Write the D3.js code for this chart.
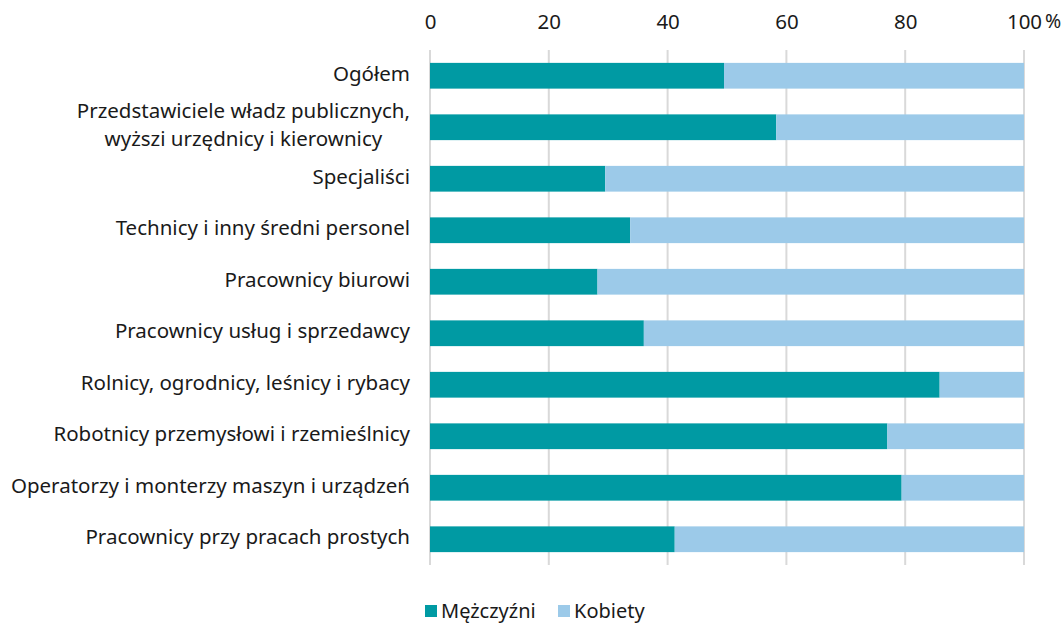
<!DOCTYPE html>
<html>
<head>
<meta charset="utf-8">
<script src="https://cdn.jsdelivr.net/npm/d3@7"></script>
<style>
  body { margin: 0; background: #fff; }
  svg { display: block; font-family: "Noto Sans", sans-serif; }
</style>
</head>
<body>
<div id="container"></div>
<script>
let width = 1062;
let height = 624;

// categories, top to bottom (use "\n" for a line break)
let categories = [
  "Ogółem",
  "Przedstawiciele władz publicznych,\nwyższi urzędnicy i kierownicy",
  "Specjaliści",
  "Technicy i inny średni personel",
  "Pracownicy biurowi",
  "Pracownicy usług i sprzedawcy",
  "Rolnicy, ogrodnicy, leśnicy i rybacy",
  "Robotnicy przemysłowi i rzemieślnicy",
  "Operatorzy i monterzy maszyn i urządzeń",
  "Pracownicy przy pracach prostych"
];
let men = [49.5, 58.3, 29.5, 33.7, 28.2, 36.0, 85.8, 77.0, 79.4, 41.2];
let women = men.map(function (d) { return 100 - d; });
let series_names = ["Mężczyźni", "Kobiety"];
let series_colors = ["#009aa3", "#9ccae9"];
let x_ticks = [0, 20, 40, 60, 80, 100];

let margin = ({ top: 50, right: 38, bottom: 59, left: 430 });
let font_size = 20.5;

let svg = d3.select("#container")
  .append("svg")
  .attr("width", width)
  .attr("height", height);

let x = d3.scaleLinear()
  .domain([0, 100])
  .range([margin.left, width - margin.right]);

let y = d3.scaleBand()
  .domain(categories)
  .range([margin.top, height - margin.bottom])
  .paddingInner(0.5)
  .paddingOuter(0.25);

// gridlines
svg.append("g")
  .selectAll("line")
  .data(x_ticks)
  .enter()
  .append("line")
  .attr("x1", function (d) { return x(d); })
  .attr("x2", function (d) { return x(d); })
  .attr("y1", margin.top)
  .attr("y2", height - margin.bottom)
  .attr("stroke", "#d9d9d9")
  .attr("stroke-width", 2);

// top axis labels
let xAxis = svg.append("g")
  .attr("transform", "translate(0," + 29 + ")")
  .call(d3.axisTop(x).tickValues(x_ticks).tickSize(0).tickPadding(0));
xAxis.select(".domain").remove();
xAxis.selectAll("text")
  .attr("font-family", "Noto Sans, sans-serif")
  .attr("font-size", font_size)
  .attr("fill", "#1a1a1a");

svg.append("text")
  .attr("x", x(100) + 21)
  .attr("y", 29)
  .attr("dy", "-0.05em")
  .attr("font-size", font_size - 1)
  .attr("fill", "#1a1a1a")
  .text("%");

// stacked bars
let rows = categories.map(function (c, i) {
  return { cat: c, vals: [men[i], women[i]] };
});

rows.forEach(function (r) {
  let x0 = 0;
  r.vals.forEach(function (v, j) {
    svg.append("rect")
      .attr("x", x(x0))
      .attr("y", y(r.cat))
      .attr("width", x(x0 + v) - x(x0))
      .attr("height", y.bandwidth())
      .attr("fill", series_colors[j]);
    x0 += v;
  });
});

// category labels
let labelRight = 410;
let lh = 28;
categories.forEach(function (c) {
  let lines = c.split("\n");
  let cy = y(c) + y.bandwidth() / 2;
  let t = svg.append("text")
    .attr("y", cy - (lines.length - 1) / 2 * lh - 2)
    .attr("font-size", font_size)
    .attr("fill", "#1a1a1a");
  if (lines.length == 1) {
    t.attr("x", labelRight)
      .attr("dy", "0.35em")
      .attr("text-anchor", "end")
      .text(c);
  } else {
    let spans = lines.map(function (l, i) {
      return t.append("tspan")
        .attr("dy", i == 0 ? "0.35em" : lh)
        .text(l);
    });
    let maxw = d3.max(spans, function (s) { return s.node().getComputedTextLength(); });
    t.attr("text-anchor", "middle");
    spans.forEach(function (s) { s.attr("x", labelRight - maxw / 2); });
  }
});

// legend
let legend = svg.append("g").attr("transform", "translate(0,611)");
let legend_x = [425, 558];
series_names.forEach(function (n, i) {
  legend.append("rect")
    .attr("x", legend_x[i])
    .attr("y", -6)
    .attr("width", 12)
    .attr("height", 12)
    .attr("fill", series_colors[i]);
  legend.append("text")
    .attr("x", legend_x[i] + 16)
    .attr("y", 0)
    .attr("dy", "0.35em")
    .attr("font-size", 20)
    .attr("fill", "#1a1a1a")
    .text(n);
});
</script>
</body>
</html>
